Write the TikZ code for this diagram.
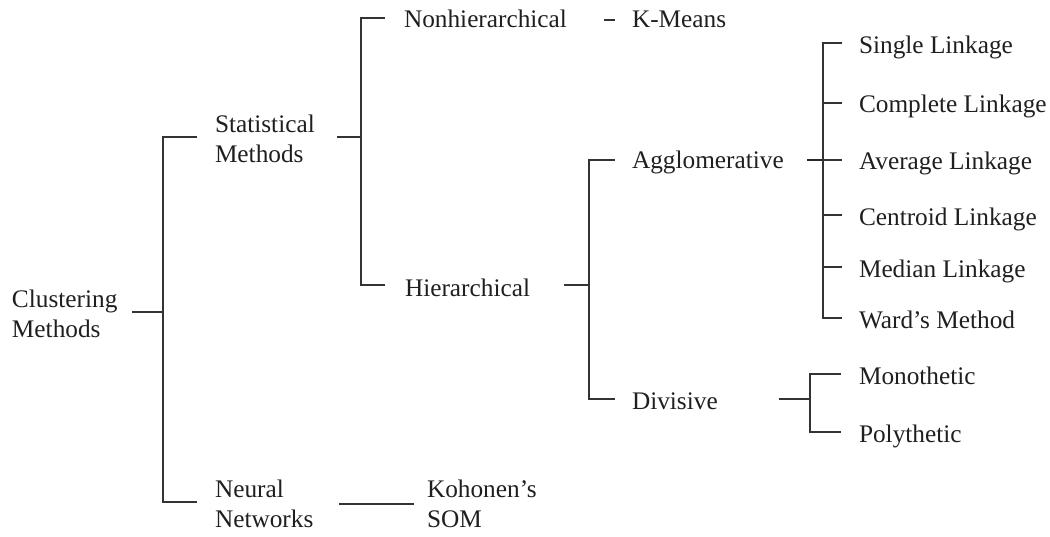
\documentclass[tikz,border=0pt]{standalone}
\usepackage{fontspec}
\setmainfont{Liberation Serif}
\begin{document}
\begin{tikzpicture}[x=1pt,y=-1pt,
  lbl/.style={anchor=base west,inner sep=0pt,outer sep=0pt,align=left,
    font=\fontsize{25.3}{29.5}\selectfont,text=black!88},
  conn/.style={draw=black!80,line width=1.5pt},
  heavy/.style={draw=black!85,line width=2.3pt}]
\useasboundingbox (0,0) rectangle (1050,536);
% nodes (multi-line nodes: base = baseline of last line)
\node[lbl] (cm) at (12,337) {Clustering\\Methods};
\node[lbl] (sm) at (215,162) {Statistical\\Methods};
\node[lbl] (nn) at (215,527) {Neural\\Networks};
\node[lbl] (ko) at (427,527) {Kohonen's\\SOM};
\node[lbl] (nh) at (404,27) {Nonhierarchical};
\node[lbl] (hi) at (405,296) {Hierarchical};
\node[lbl] (km) at (632,27) {K-Means};
\node[lbl] (ag) at (632,168) {Agglomerative};
\node[lbl] (dv) at (632,409) {Divisive};
\node[lbl] (sl) at (859,53) {Single Linkage};
\node[lbl] (cl) at (859,112) {Complete Linkage};
\node[lbl] (al) at (859,169) {Average Linkage};
\node[lbl] (ce) at (859,225) {Centroid Linkage};
\node[lbl] (me) at (859,277) {Median Linkage};
\node[lbl] (wm) at (859,328) {Ward's Method};
\node[lbl] (mo) at (859,384) {Monothetic};
\node[lbl] (po) at (859,442) {Polythetic};
% junction coordinates
\coordinate (b1t) at (163,137); \coordinate (b1m) at (163,312); \coordinate (b1b) at (163,502);
\coordinate (b2t) at (361,18);  \coordinate (b2m) at (361,137); \coordinate (b2b) at (361,285);
\coordinate (b3t) at (589,160); \coordinate (b3m) at (589,285); \coordinate (b3b) at (589,399);
\coordinate (b4t) at (823,43);  \coordinate (b4c) at (823,103); \coordinate (b4m) at (823,160);
\coordinate (b4e) at (823,215); \coordinate (b4f) at (823,267); \coordinate (b4b) at (823,318);
\coordinate (b5t) at (810,374); \coordinate (b5m) at (810,399); \coordinate (b5b) at (810,432);
\coordinate (kd) at (0,20);
\coordinate (nny) at (0,504);
% connectors
\draw[conn] ([xshift=15pt]cm.east |- b1m) -- (b1m);
\draw[conn] ([xshift=-18pt]sm.west |- b1t) -- (b1t) -- (b1b) -- ([xshift=-18pt]nn.west |- b1b);
\draw[conn] ([xshift=22pt]sm.east |- b2m) -- (b2m);
\draw[conn] ([xshift=-19pt]nh.west |- b2t) -- (b2t) -- (b2b) -- ([xshift=-20pt]hi.west |- b2b);
\draw[conn] ([xshift=37pt]nh.east |- kd) -- ([xshift=-17pt]km.west |- kd);
\draw[conn] ([xshift=34pt]hi.east |- b3m) -- (b3m);
\draw[conn] ([xshift=-17pt]ag.west |- b3t) -- (b3t) -- (b3b) -- ([xshift=-17pt]dv.west |- b3b);
\draw[heavy] ([xshift=23pt]ag.east |- b4m) -- (b4m);
\draw[conn] ([xshift=-17pt]sl.west |- b4t) -- (b4t) -- (b4b) -- ([xshift=-17pt]wm.west |- b4b);
\draw[conn] (b4c) -- ([xshift=-17pt]cl.west |- b4c);
\draw[conn] (b4m) -- ([xshift=-17pt]al.west |- b4m);
\draw[conn] (b4e) -- ([xshift=-17pt]ce.west |- b4e);
\draw[conn] (b4f) -- ([xshift=-17pt]me.west |- b4f);
\draw[conn] ([xshift=61pt]dv.east |- b5m) -- (b5m);
\draw[conn] ([xshift=-18pt]mo.west |- b5t) -- (b5t) -- (b5b) -- ([xshift=-18pt]po.west |- b5b);
\draw[conn] ([xshift=26pt]nn.east |- nny) -- ([xshift=-13pt]ko.west |- nny);
\end{tikzpicture}
\end{document}
